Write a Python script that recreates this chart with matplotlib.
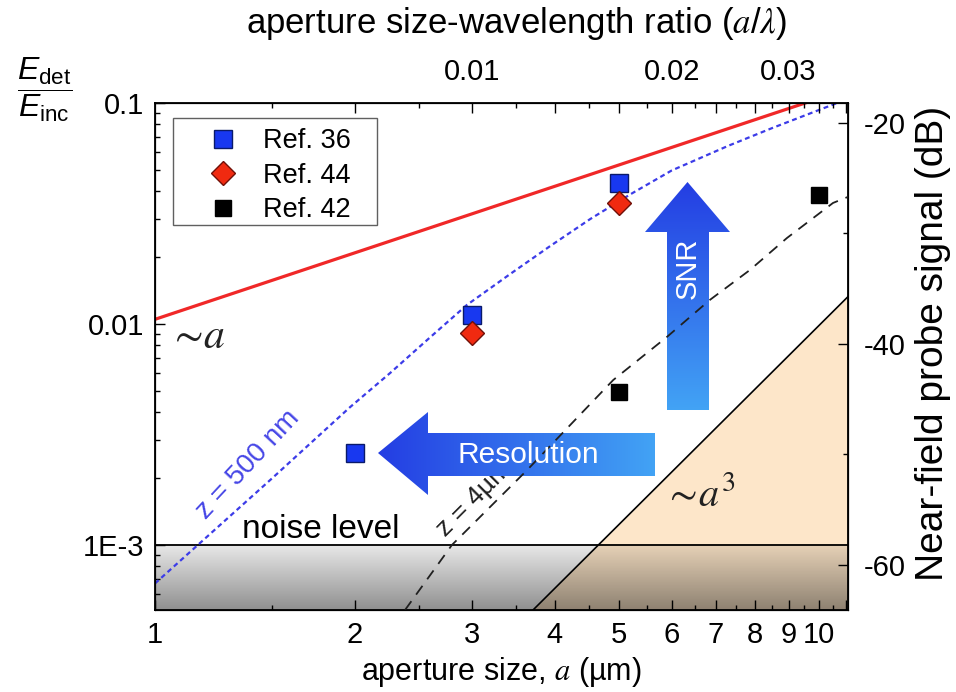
import numpy as np
import matplotlib.pyplot as plt
from matplotlib.patches import Polygon, Rectangle
from matplotlib.ticker import FixedLocator, FixedFormatter, NullFormatter

plt.rcParams['font.family'] = ['Liberation Sans', 'DejaVu Sans']
plt.rcParams['mathtext.fontset'] = 'custom'
plt.rcParams['mathtext.rm'] = 'Liberation Sans'
plt.rcParams['mathtext.it'] = 'Liberation Sans:italic'
plt.rcParams['axes.unicode_minus'] = False

# measured probes: aperture size (um) vs. E_det / E_inc
ref36_a = [2, 3, 5]
ref36_e = [0.0026, 0.011, 0.0435]
ref44_a = [3, 5]
ref44_e = [0.0091, 0.0353]
ref42_a = [5, 10]
ref42_e = [0.0049, 0.0384]

# ~a trend
lin_a = [1.0, 11.06]
lin_e = [0.0105, 0.116]

# probe at z = 500 nm
z500_a = [1.0, 1.5, 1.966, 2.26, 2.596, 2.95, 3.424, 3.935, 4.52, 5.19, 6.0, 7.3, 8.5, 10.65]
z500_e = [6.7e-4, 0.0020, 0.0042, 0.0060, 0.0087, 0.0122, 0.0168, 0.0225, 0.0298, 0.0385,
          0.0495, 0.064, 0.077, 0.1]

# probe at z = 4 um
z4_a = [2.38, 2.80, 3.633, 4.90, 5.90, 6.85, 7.87, 8.95, 10.5, 11.06]
z4_e = [5.08e-4, 1.0e-3, 0.00218, 0.00558, 0.00873, 0.01285, 0.01755, 0.0245, 0.0353, 0.0376]

# ~a^3 limit
cube_a = [3.71, 11.06]
cube_e = [5.08e-4, 0.0133]

noise_level = 1e-3
wavelength = 300.0  # um
top_ratio = [0.01, 0.02, 0.03]
db_offset = 1.8

xlim = (1.0, 11.06)
ylim = (5.08e-4, 0.1)

fig = plt.figure(figsize=(9.56, 6.92), dpi=100)
ax = fig.add_axes([155 / 956, 82 / 692, 693 / 956, 507 / 692])
ax.set_xscale('log')
ax.set_yscale('log')
ax.set_xlim(*xlim)
ax.set_ylim(*ylim)
ax.set_autoscale_on(False)


def px(x, y):
    # pixel position inside the frame -> axes fraction
    return ((x - 155) / 693, (610 - y) / 507)


# shaded area below ~a^3
ax.fill_between(cube_a, cube_e, ylim[0], color='#fde6c9', lw=0, zorder=1)
ax.plot(cube_a, cube_e, color='k', lw=1.2, zorder=3)

# darkening band below the noise level
yf = (np.log10(noise_level) - np.log10(ylim[0])) / (np.log10(ylim[1]) - np.log10(ylim[0]))
t = np.linspace(0, 1, 200)
band = np.zeros((200, 1, 4))
band[:, 0, 3] = 0.44 - 0.35 * t
ax.imshow(band, extent=(0, 1, 0, yf), transform=ax.transAxes, origin='lower',
          aspect='auto', interpolation='bilinear', zorder=1.5)
ax.axhline(noise_level, color='k', lw=1.3, zorder=3)


def gradient_arrow(pts, c_start, c_end, vertical):
    pts = [px(*p) for p in pts]
    poly = Polygon(pts, closed=True, transform=ax.transAxes, fc='none', ec='none')
    ax.add_patch(poly)
    xs = [p[0] for p in pts]
    ys = [p[1] for p in pts]
    s = np.linspace(0, 1, 256)[:, None]
    cols = (1 - s) * np.array(c_start) + s * np.array(c_end)
    img = cols[:, None, :] if vertical else cols[None, :, :]
    im = ax.imshow(img, extent=(min(xs), max(xs), min(ys), max(ys)),
                   transform=ax.transAxes, origin='lower', aspect='auto',
                   interpolation='bilinear', zorder=2)
    im.set_clip_path(poly)


light = (0.26, 0.64, 0.96)
dark = (0.14, 0.24, 0.89)
gradient_arrow([(667, 410), (709, 410), (709, 232), (730, 232), (687.5, 182),
                (645, 232), (667, 232)], light, dark, True)
gradient_arrow([(378, 453), (428, 412), (428, 433), (655, 433), (655, 476),
                (428, 476), (428, 495)], dark, light, False)
ax.text(*px(688, 268), 'SNR', transform=ax.transAxes, rotation=90, color='white',
        fontsize=21, ha='center', va='center', zorder=5)
ax.text(*px(528, 455), 'Resolution', transform=ax.transAxes, color='white',
        fontsize=21.5, ha='center', va='center', zorder=5)

# trend lines
ax.plot(lin_a, lin_e, color='#f02828', lw=2.3, zorder=3)
ax.plot(z500_a, z500_e, color='#3c3ce8', lw=1.6, ls=(0, (2.2, 1.6)), zorder=3)
ax.plot(z4_a, z4_e, color='#202020', lw=1.3, ls=(0, (6, 4.5)), zorder=3)

# data points
ax.plot(ref36_a, ref36_e, 's', ms=12.5, mfc='#1838f0', mec='#0a1a6a', mew=1.0,
        label='Ref. 36', zorder=4)
ax.plot(ref44_a, ref44_e, 'D', ms=12, mfc='#f02a10', mec='#701008', mew=1.0,
        label='Ref. 44', zorder=4)
ax.plot(ref42_a, ref42_e, 's', ms=12, mfc='k', mec='k', label='Ref. 42', zorder=4)

# legend with a separately drawn box
x0, y0 = px(173, 118)
x1, y1 = px(377, 225)
ax.add_patch(Rectangle((x0, y1), x1 - x0, y0 - y1, transform=ax.transAxes,
                       fc='white', ec='#606060', lw=1.0, zorder=5.5))
leg = ax.legend(loc='upper left', bbox_to_anchor=px(193, 128), borderaxespad=0,
                borderpad=0, fontsize=19.5, frameon=False,
                handletextpad=0.4, labelspacing=0.32, handlelength=2.2)
leg.set_zorder(6)

# annotations
ax.text(*px(197, 337), r'$\sim\!a$', transform=ax.transAxes, fontsize=30,
        math_fontfamily='stix', ha='center', va='center', color='#222222', zorder=5)
ax.text(*px(700, 495), r'$\sim\!a^3$', transform=ax.transAxes, fontsize=29,
        math_fontfamily='stix', ha='center', va='center', color='#222222', zorder=5)
ax.text(*px(242, 538), 'noise level', transform=ax.transAxes, fontsize=24,
        ha='left', va='baseline', zorder=5)
ax.text(*px(248, 465), 'z = 500 nm', transform=ax.transAxes, fontsize=20,
        rotation=47, color='#4646e6', ha='center', va='center', zorder=5)
ax.text(*px(474, 499), 'z = 4µm', transform=ax.transAxes, fontsize=19,
        rotation=45, color='#202020', ha='center', va='center', zorder=1.8)

# bottom / left axes
tick_size = 21
ax.xaxis.set_major_locator(FixedLocator(np.arange(1, 12)))
ax.xaxis.set_major_formatter(FixedFormatter([str(i) for i in range(1, 11)] + ['']))
ax.xaxis.set_minor_locator(FixedLocator(np.arange(1.5, 11.5, 1.0)))
ax.xaxis.set_minor_formatter(NullFormatter())
ax.yaxis.set_major_locator(FixedLocator([1e-3, 1e-2, 1e-1]))
ax.yaxis.set_major_formatter(FixedFormatter(['1E-3', '0.01', '0.1']))
ax.yaxis.set_minor_locator(FixedLocator([m * 10.0 ** e for e in (-4, -3, -2) for m in range(2, 10)]))
ax.yaxis.set_minor_formatter(NullFormatter())
ax.tick_params(which='both', direction='in', width=1.0, labelsize=tick_size)
ax.tick_params(which='major', length=7)
ax.tick_params(which='minor', length=3.5)
ax.tick_params(axis='x', pad=8)
ax.tick_params(axis='y', pad=8)
ax.set_xlabel('aperture size, $a$ (µm)', fontsize=22, labelpad=4, math_fontfamily='stix')
for sp in ax.spines.values():
    sp.set_linewidth(1.3)

# top axis: a / lambda
top = ax.twiny()
top.set_xscale('log')
top.set_xlim(*xlim)
top_pos = [r * wavelength for r in top_ratio]
top.xaxis.set_major_locator(FixedLocator(np.arange(2, 12)))
top.xaxis.set_major_formatter(FixedFormatter(
    [f'{r:g}' if any(abs(r * wavelength - p) < 1e-6 for p in top_pos) else ''
     for r in np.arange(2, 12) / wavelength]))
top.xaxis.set_minor_locator(FixedLocator(np.arange(1.5, 11.5, 1.0)))
top.xaxis.set_minor_formatter(NullFormatter())
top.tick_params(which='both', direction='in', width=1.0, labelsize=tick_size, pad=12)
top.tick_params(which='major', length=7)
top.tick_params(which='minor', length=3.5)
fig.text(517 / 956, 1 - 24 / 692, r'aperture size-wavelength ratio ($a$/$\lambda$)',
         fontsize=25, ha='center', va='center', math_fontfamily='stix')

# right axis: signal in dB
right = ax.twinx()
right.set_ylim(20 * np.log10(ylim[0]) + db_offset, 20 * np.log10(ylim[1]) + db_offset)
right.yaxis.set_major_locator(FixedLocator([-60, -40, -20]))
right.yaxis.set_minor_locator(FixedLocator([-50, -30]))
right.tick_params(which='both', direction='in', width=1.0, labelsize=tick_size, pad=11)
right.tick_params(which='major', length=7)
right.tick_params(which='minor', length=3.5)
fig.text(933 / 956, 1 - 343 / 692, 'Near-field probe signal (dB)', fontsize=28,
         rotation=90, ha='center', va='center')

fig.text(45 / 956, 1 - 90 / 692, r'$\dfrac{E_{\mathrm{det}}}{E_{\mathrm{inc}}}$',
         fontsize=23, ha='center', va='center')

fig.savefig('out.png', dpi=100)
